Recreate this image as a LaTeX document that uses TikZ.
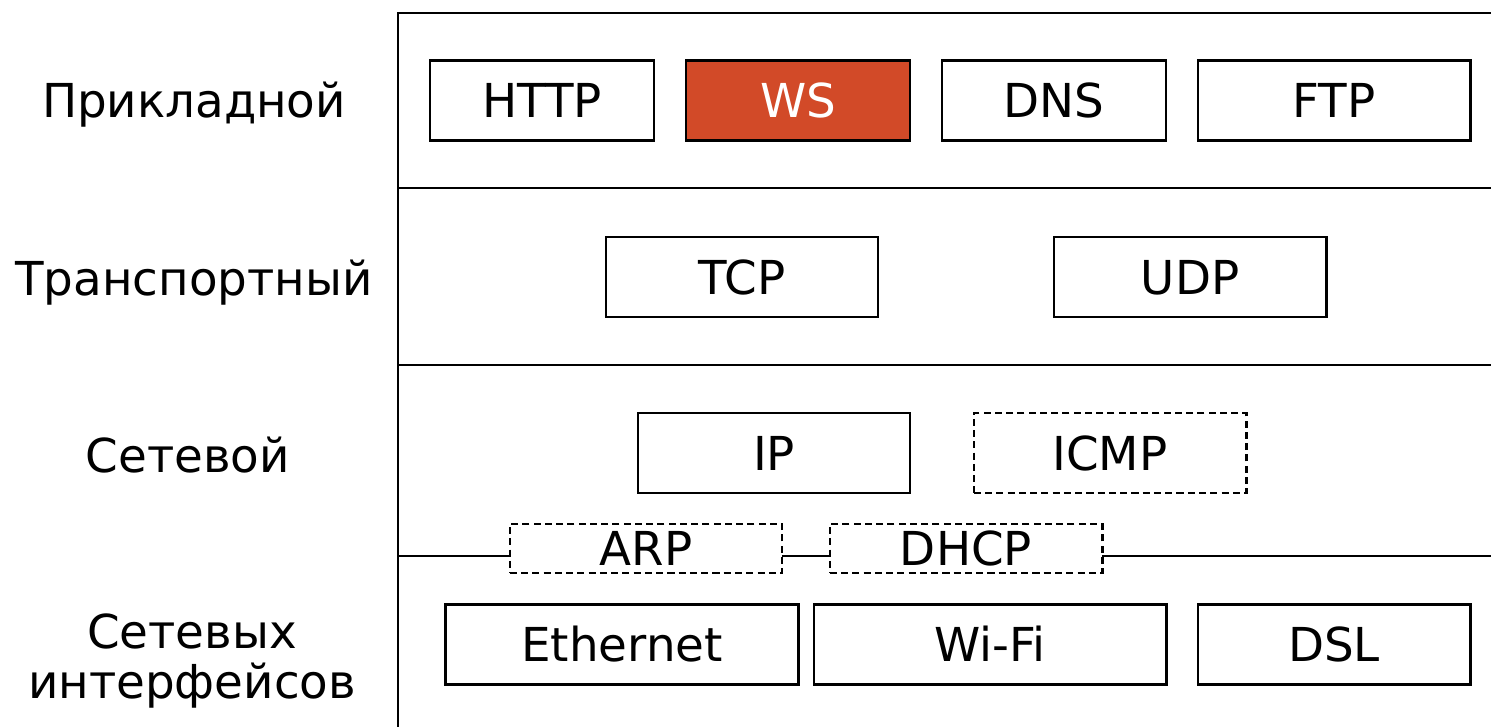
\documentclass[tikz,border=0pt]{standalone}
\usepackage{fontspec}
\setmainfont{DejaVu Sans}
\usetikzlibrary{positioning}
\definecolor{wsred}{HTML}{D24A28}

\begin{document}
\begin{tikzpicture}[x=0.01cm, y=-0.01cm,
	every node/.append style={font=\fontsize{13.3}{14.4}\selectfont},
	proto/.style={draw=black, line width=0.8pt, fill=white, inner sep=0pt, minimum height=0.8cm, text height=0.34cm, text depth=0cm},
	optproto/.style={proto, dash pattern=on 2pt off 1.2pt},
	layername/.style={anchor=base, align=center},
	frame/.style={line width=0.8pt}]

	\useasboundingbox (0,0) rectangle (1491,727);

	% frame of the stack
	\coordinate (topleft) at (398,13);
	\coordinate (topright) at (1491,13);
	\coordinate (bottomleft) at (398,727);
	\draw[frame] (topright) -- (topleft) -- (bottomleft);
	\draw[frame] (398,188) coordinate (l1) -- (1491,188) coordinate (r1);
	\draw[frame] (398,365) coordinate (l2) -- (1491,365) coordinate (r2);
	\draw[frame] (398,556) coordinate (l3) -- (1491,556) coordinate (r3);

	% layer names
	\node[layername] (app) at (194,117) {Прикладной};
	\node[layername] (trans) at (194,295) {Транспортный};
	\node[layername] (net) at (188,472) {Сетевой};
	\node[align=center] (link) at (192,661) {Сетевых\\интерфейсов};

	% application
	\node[proto, minimum width=2.24cm] (http) at (542,100.5) {HTTP};
	\node[proto, minimum width=2.24cm, fill=wsred, text=white] (ws) at (798,100.5) {WS};
	\node[proto, minimum width=2.24cm] (dns) at (1054,100.5) {DNS};
	\node[proto, minimum width=2.72cm] (ftp) at (1334,100.5) {FTP};

	% transport
	\node[proto, minimum width=2.72cm] (tcp) at (742,277) {TCP};
	\node[proto, minimum width=2.72cm] (udp) at (1190,277) {UDP};

	% network
	\node[proto, minimum width=2.72cm] (ip) at (774,453) {IP};
	\node[optproto, minimum width=2.72cm] (icmp) at (1110,453) {ICMP};
	\node[optproto, minimum width=2.72cm, minimum height=0.49cm] (arp) at (646,548.5) {ARP};
	\node[optproto, minimum width=2.72cm, minimum height=0.49cm] (dhcp) at (966,548.5) {DHCP};

	% network interfaces
	\node[proto, minimum width=3.52cm] (eth) at (622,644.5) {Ethernet};
	\node[proto, minimum width=3.52cm] (wifi) at (990,644.5) {Wi-Fi};
	\node[proto, minimum width=2.72cm] (dsl) at (1334,644.5) {DSL};
\end{tikzpicture}
\end{document}
